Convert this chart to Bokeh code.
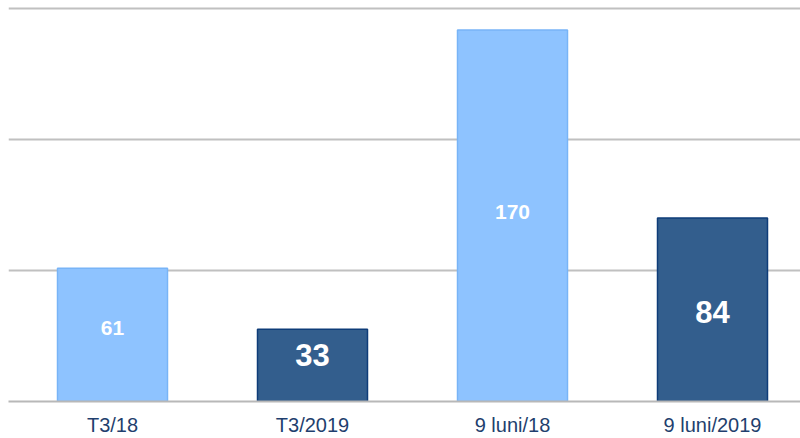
from bokeh.plotting import figure
from bokeh.models import Range1d, FixedTicker, ColumnDataSource
from bokeh.embed import file_html
from bokeh.resources import INLINE
from bokeh.core.properties import value

categories = ["T3/18", "T3/2019", "9 luni/18", "9 luni/2019"]
values = [61, 33, 170, 84]
y_ticks = [60, 120, 180]

light_fill, light_line = "#8EC3FF", "#78B4F7"
dark_fill, dark_line = "#335E8D", "#0E3C78"
fills = [light_fill, dark_fill, light_fill, dark_fill]
lines = [light_line, dark_line, light_line, dark_line]
label_frac = [0.55, 0.65, 0.51, 0.49]
label_sizes = ["21px", "31px", "21px", "31px"]

xs = list(range(len(categories)))
src = ColumnDataSource(dict(
    x=xs, top=values, fill=fills, line=lines,
    ly=[v * f for v, f in zip(values, label_frac)],
    txt=[str(v) for v in values], size=label_sizes,
))

p = figure(width=800, height=438, x_range=Range1d(-0.52, 3.44),
           y_range=Range1d(0, 180.7), output_backend="svg",
           toolbar_location=None, min_border_left=8, min_border_right=0,
           min_border_top=6, min_border_bottom=37)
p.outline_line_color = None
p.background_fill_color = "white"
p.border_fill_color = "white"

p.vbar(x="x", top="top", width=0.55, bottom=0, source=src,
       fill_color="fill", line_color="line", line_width=1.5)
p.text(x="x", y="ly", text="txt", source=src, text_align="center",
       text_baseline="middle", text_color="white", text_font_style="bold",
       text_font=value("Liberation Sans"), text_font_size="size")

p.yaxis.visible = False
p.ygrid.ticker = FixedTicker(ticks=y_ticks)
p.ygrid.grid_line_color = "#C0C0C0"
p.ygrid.grid_line_width = 2
p.xgrid.grid_line_color = None

p.xaxis.ticker = FixedTicker(ticks=xs)
p.xaxis.major_label_overrides = {i: c for i, c in zip(xs, categories)}
p.xaxis.axis_line_color = "#B8B8B8"
p.xaxis.axis_line_width = 2
p.xaxis.major_tick_line_color = None
p.xaxis.minor_tick_line_color = None
p.xaxis.major_label_standoff = 6
p.xaxis.major_label_text_font = "Liberation Sans"
p.xaxis.major_label_text_font_size = "20px"
p.xaxis.major_label_text_color = "#1F3F6E"

open("out.html", "w").write(file_html(p, INLINE))
